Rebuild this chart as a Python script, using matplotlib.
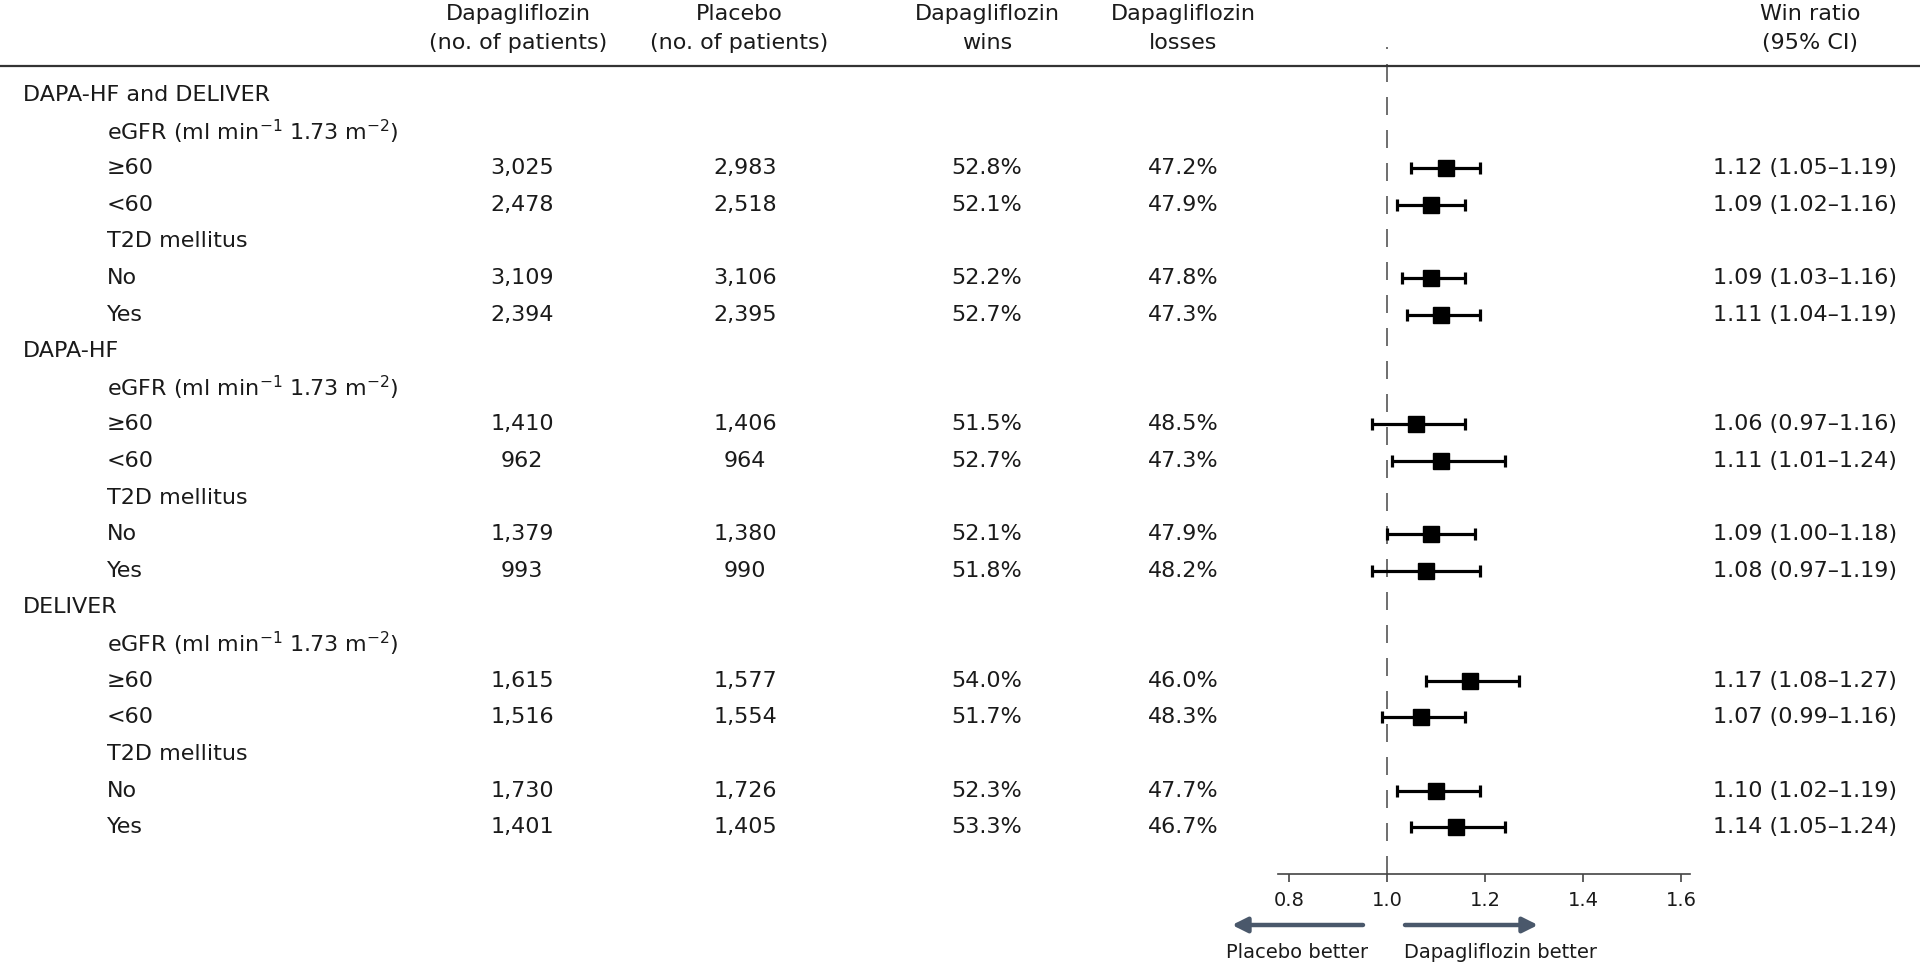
import matplotlib
matplotlib.use("Agg")
import matplotlib.pyplot as plt
from matplotlib import transforms
from matplotlib.lines import Line2D
from matplotlib.patches import FancyArrowPatch

plt.rcParams['font.family'] = ['DejaVu Sans']
plt.rcParams['mathtext.fontset'] = 'dejavusans'

# --- data ---
groups = ['DAPA-HF and DELIVER', 'DAPA-HF', 'DELIVER']
egfr_label = r'eGFR (ml min$^{-1}$ 1.73 m$^{-2}$)'
t2d_label = 'T2D mellitus'
subgroups = ['≥60', '<60', 'No', 'Yes']

dapa_n = [3025, 2478, 3109, 2394,
          1410, 962, 1379, 993,
          1615, 1516, 1730, 1401]
placebo_n = [2983, 2518, 3106, 2395,
             1406, 964, 1380, 990,
             1577, 1554, 1726, 1405]
wins = [52.8, 52.1, 52.2, 52.7,
        51.5, 52.7, 52.1, 51.8,
        54.0, 51.7, 52.3, 53.3]
losses = [47.2, 47.9, 47.8, 47.3,
          48.5, 47.3, 47.9, 48.2,
          46.0, 48.3, 47.7, 46.7]
win_ratio = [1.12, 1.09, 1.09, 1.11,
             1.06, 1.11, 1.09, 1.08,
             1.17, 1.07, 1.10, 1.14]
ci_low = [1.05, 1.02, 1.03, 1.04,
          0.97, 1.01, 1.00, 0.97,
          1.08, 0.99, 1.02, 1.05]
ci_high = [1.19, 1.16, 1.16, 1.19,
           1.16, 1.24, 1.18, 1.19,
           1.27, 1.16, 1.19, 1.24]

xticks = [0.8, 1.0, 1.2, 1.4, 1.6]

# --- layout (pixels of a 1920x964 canvas) ---
W, H = 1920, 964
TXT = '#1a1a1a'
FS = 16

def fx(px):
    return px / W

def fy(py):
    return 1 - py / H

fig = plt.figure(figsize=(19.2, 9.64), dpi=100)

# forest axes; rows are indices 0..20
ax = fig.add_axes([fx(1278), fy(874), fx(1690) - fx(1278), fy(47) - fy(874)])
ax.set_xlim(0.778, 1.618)
ax.set_ylim(21.28, -1.311)
for s in ['top', 'left', 'right']:
    ax.spines[s].set_visible(False)
ax.spines['bottom'].set_color('#444444')
ax.spines['bottom'].set_linewidth(1.2)
ax.set_yticks([])
ax.set_xticks(xticks)
ax.set_xticklabels([f'{t:.1f}' for t in xticks])
ax.tick_params(axis='x', length=6, width=1.2, color='#444444', labelsize=14,
               labelcolor=TXT, pad=6)
ax.patch.set_visible(False)
ax.axvline(1.0, color='#555555', lw=1.2, linestyle=(0, (10.8, 9)), zorder=1)

trans = transforms.blended_transform_factory(fig.transFigure, ax.transData)

# build rows
row = 0
k = 0
for g in groups:
    ax.text(fx(23), row, g, transform=trans, ha='left', va='center',
            fontsize=FS, color=TXT)
    row += 1
    for j, sub in enumerate(subgroups):
        if j == 0:
            ax.text(fx(107), row, egfr_label, transform=trans, ha='left',
                    va='center', fontsize=FS, color=TXT)
            row += 1
        if j == 2:
            ax.text(fx(107), row, t2d_label, transform=trans, ha='left',
                    va='center', fontsize=FS, color=TXT)
            row += 1
        ax.text(fx(107), row, sub, transform=trans, ha='left', va='center',
                fontsize=FS, color=TXT)
        ax.text(fx(522), row, f'{dapa_n[k]:,}', transform=trans, ha='center',
                va='center', fontsize=FS, color=TXT)
        ax.text(fx(745), row, f'{placebo_n[k]:,}', transform=trans,
                ha='center', va='center', fontsize=FS, color=TXT)
        ax.text(fx(987), row, f'{wins[k]:.1f}%', transform=trans, ha='center',
                va='center', fontsize=FS, color=TXT)
        ax.text(fx(1183), row, f'{losses[k]:.1f}%', transform=trans,
                ha='center', va='center', fontsize=FS, color=TXT)
        ax.text(fx(1805), row,
                f'{win_ratio[k]:.2f} ({ci_low[k]:.2f}\u2013{ci_high[k]:.2f})',
                transform=trans, ha='center', va='center', fontsize=FS,
                color=TXT)
        ax.errorbar(win_ratio[k], row,
                    xerr=[[win_ratio[k] - ci_low[k]], [ci_high[k] - win_ratio[k]]],
                    fmt='s', color='black', ecolor='black', markersize=11,
                    elinewidth=2.3, capsize=4, capthick=2.3, zorder=3)
        row += 1
        k += 1

# header
headers = [(518, 'Dapagliflozin', '(no. of patients)'),
           (739, 'Placebo', '(no. of patients)'),
           (987, 'Dapagliflozin', 'wins'),
           (1183, 'Dapagliflozin', 'losses'),
           (1810, 'Win ratio', '(95% CI)')]
for x, l1, l2 in headers:
    fig.text(fx(x), fy(14), l1, ha='center', va='center', fontsize=FS, color=TXT)
    fig.text(fx(x), fy(43), l2, ha='center', va='center', fontsize=FS, color=TXT)

fig.add_artist(Line2D([0, 1], [fy(66), fy(66)], transform=fig.transFigure,
                      color='#333333', lw=1.6))

# direction arrows
arrow_col = '#4a586b'
for x0, x1 in [(1363, 1232), (1405, 1538)]:
    fig.add_artist(FancyArrowPatch(
        (fx(x0), fy(925)), (fx(x1), fy(925)), transform=fig.transFigure,
        arrowstyle='-|>,head_length=9,head_width=4.5', color=arrow_col,
        lw=3.2, mutation_scale=1, shrinkA=0, shrinkB=0))
fig.text(fx(1297), fy(953), 'Placebo better', ha='center', va='center',
         fontsize=14, color=TXT)
fig.text(fx(1500), fy(953), 'Dapagliflozin better', ha='center', va='center',
         fontsize=14, color=TXT)

fig.savefig('out.png', dpi=100, facecolor='white')
